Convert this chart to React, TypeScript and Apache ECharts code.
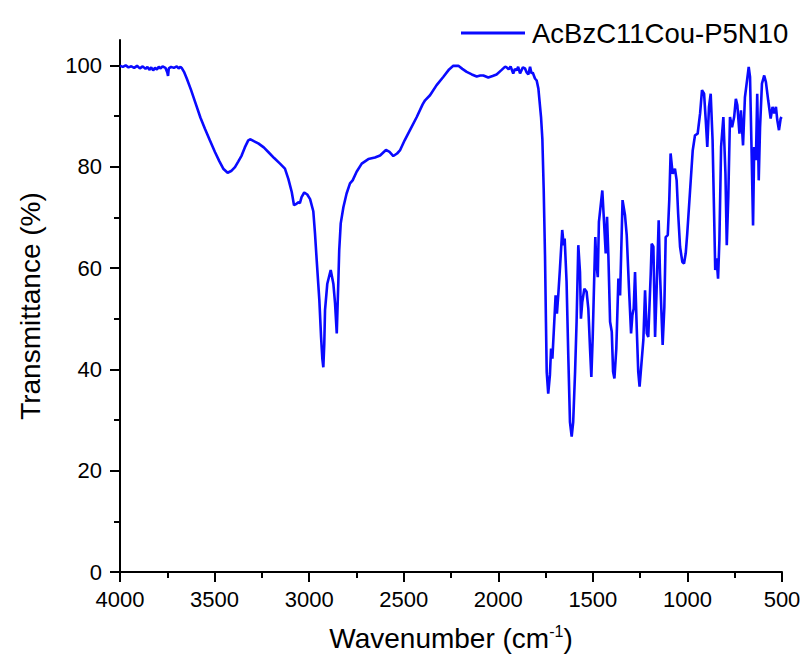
import React, { useEffect, useRef } from "react";
import * as echarts from "echarts";

const seriesName = "AcBzC11Cou-P5N10";

const wavenumber: number[] = [
  4000, 3985, 3970, 3955, 3940, 3925, 3910, 3895, 3880, 3865, 3855, 3845, 3835, 3825, 3815, 3805, 3795, 3785, 3775, 3760,
  3750, 3746, 3742, 3730, 3715, 3700, 3690, 3680, 3674, 3660, 3647, 3625, 3603, 3575, 3551, 3525, 3498, 3475, 3454, 3431,
  3410, 3392, 3375, 3357, 3340, 3322, 3310, 3290, 3269, 3240, 3216, 3185, 3154, 3128, 3110, 3092, 3080, 3070, 3057, 3049,
  3040, 3026, 3010, 2995, 2978, 2969, 2960, 2946, 2937, 2930, 2925, 2920, 2916, 2904, 2886, 2872, 2863, 2854, 2846, 2841,
  2833, 2819, 2802, 2784, 2770, 2749, 2722, 2687, 2652, 2625, 2594, 2575, 2555, 2535, 2520, 2495, 2467, 2431, 2400, 2387,
  2361, 2326, 2291, 2260, 2238, 2211, 2190, 2167, 2140, 2114, 2095, 2079, 2053, 2030, 2009, 1985, 1965, 1956, 1945, 1935,
  1921, 1912, 1903, 1895, 1885, 1870, 1859, 1850, 1841, 1832, 1824, 1818, 1806, 1797, 1788, 1774, 1767, 1760, 1753, 1748,
  1744, 1736, 1727, 1721, 1714, 1704, 1697, 1690, 1683, 1674, 1662, 1654, 1649, 1639, 1630, 1621, 1612, 1604, 1594, 1586,
  1577, 1568, 1563, 1556, 1545, 1533, 1524, 1515, 1508, 1501, 1492, 1487, 1482, 1474, 1468, 1450, 1440, 1432, 1425, 1418,
  1409, 1400, 1393, 1386, 1376, 1365, 1356, 1343, 1330, 1321, 1309, 1298, 1291, 1284, 1277, 1268, 1260, 1253, 1246, 1233,
  1224, 1215, 1207, 1194, 1189, 1180, 1171, 1163, 1152, 1145, 1131, 1122, 1115, 1104, 1096, 1089, 1078, 1066, 1057, 1049,
  1039, 1027, 1018, 1009, 1001, 986, 972, 960, 946, 933, 923, 912, 902, 895, 886, 877, 867, 858, 853, 846,
  838, 831, 822, 810, 799, 792, 784, 775, 764, 753, 744, 736, 725, 717, 706, 696, 687, 676, 669, 662,
  653, 647, 638, 631, 623, 616, 606, 594, 585, 573, 560, 550, 541, 532, 525, 516, 507, 502,
];

const transmittance: number[] = [
  99.9, 99.7, 100.0, 99.6, 99.8, 99.5, 99.9, 99.4, 99.8, 99.3, 99.7, 99.1, 99.6, 99.0, 99.5, 99.2, 99.7, 99.4, 99.8, 99.5,
  98.6, 97.9, 99.4, 99.7, 99.5, 99.8, 99.4, 99.7, 99.5, 98.6, 97.4, 95.2, 92.8, 89.7, 87.5, 85.2, 82.9, 81.1, 79.6, 78.8,
  79.2, 79.9, 81.0, 82.2, 83.8, 85.2, 85.4, 85.0, 84.6, 83.8, 82.9, 81.7, 80.6, 79.6, 77.6, 75.0, 72.4, 72.6, 73.0, 72.8,
  74.0, 74.9, 74.5, 73.6, 71.2, 66.8, 61.5, 53.6, 46.4, 42.0, 40.4, 45.0, 51.7, 56.9, 59.6, 56.9, 53.0, 47.1, 56.9, 63.5,
  68.8, 72.0, 74.7, 76.7, 77.3, 79.0, 80.6, 81.5, 81.8, 82.2, 83.3, 82.9, 82.1, 82.6, 83.2, 85.2, 87.2, 89.8, 92.3, 93.1,
  94.1, 96.1, 97.7, 99.2, 99.9, 99.9, 99.3, 98.7, 98.2, 97.8, 98.0, 98.0, 97.6, 97.9, 98.2, 99.0, 99.7, 99.6, 99.2, 99.8,
  98.4, 99.3, 99.0, 99.7, 98.4, 99.6, 99.4, 98.6, 98.2, 99.7, 98.4, 98.6, 97.4, 97.0, 95.4, 89.8, 85.5, 75.7, 62.5, 49.4,
  39.5, 35.2, 38.9, 44.1, 42.1, 49.4, 54.6, 51.0, 54.6, 59.9, 67.5, 64.5, 65.8, 57.3, 42.8, 29.6, 26.7, 29.6, 39.5, 49.4,
  64.5, 59.2, 50.0, 53.3, 55.9, 55.3, 52.0, 44.1, 38.5, 46.1, 59.2, 66.1, 61.2, 58.2, 69.1, 75.3, 68.4, 62.9, 70.1, 62.5,
  49.4, 47.4, 39.5, 38.2, 44.1, 57.9, 54.6, 73.4, 70.4, 66.5, 56.0, 47.1, 50.7, 52.0, 59.2, 48.1, 39.5, 36.6, 39.8, 45.8,
  55.6, 47.1, 46.4, 58.9, 64.8, 64.2, 46.4, 55.6, 69.4, 58.9, 44.8, 52.3, 66.1, 66.5, 73.4, 82.6, 78.6, 79.6, 77.3, 70.7,
  64.2, 61.2, 60.9, 62.9, 66.8, 75.3, 83.2, 86.2, 86.5, 90.5, 95.1, 94.4, 88.5, 83.9, 91.8, 94.4, 85.2, 68.8, 59.6, 61.9,
  57.9, 65.5, 83.9, 89.8, 78.6, 64.5, 74.0, 89.8, 87.8, 89.8, 93.4, 92.1, 86.5, 91.1, 84.2, 93.7, 96.4, 99.7, 97.7, 85.2,
  68.4, 83.9, 81.3, 94.4, 77.3, 87.8, 96.4, 98.0, 96.7, 93.1, 89.5, 91.8, 90.5, 91.8, 89.2, 87.2, 89.5, 89.8,
];

const xTicks = [500, 1000, 1500, 2000, 2500, 3000, 3500, 4000];
const yMajorTicks = [0, 20, 40, 60, 80, 100];
const yMinorTicks = [10, 30, 50, 70, 90];

const FONT = "Arial, 'Liberation Sans', sans-serif";
const BLUE = "#0a0aff";

export default function App() {
  const ref = useRef<HTMLDivElement>(null);

  useEffect(() => {
    if (!ref.current) return;
    const chart = echarts.init(ref.current, undefined, { renderer: "svg" });
    const data = wavenumber.map((w, i) => [w, transmittance[i]]);
    const axisLineStyle = { color: "#000", width: 2 };
    chart.setOption({
      animation: false,
      backgroundColor: "#fff",
      grid: { left: 120, right: 23, top: 40, bottom: 89, containLabel: false },
      legend: {
        data: [{ name: seriesName, icon: "rect" }],
        left: 456,
        top: 14,
        itemWidth: 64,
        itemHeight: 3,
        itemGap: 6,
        textStyle: { fontSize: 27.5, color: "#000", fontFamily: FONT, padding: [0, 0, 0, 2] },
      },
      xAxis: {
        type: "value",
        min: xTicks[0],
        max: xTicks[xTicks.length - 1],
        interval: 500,
        inverse: true,
        name: "Wavenumber (cm{sup|-1})",
        nameLocation: "middle",
        nameGap: 51,
        nameTextStyle: {
          fontSize: 28,
          color: "#000",
          fontFamily: FONT,
          rich: { sup: { fontSize: 16, color: "#000", fontFamily: FONT, padding: [0, 0, 14, 0] } },
        },
        axisLine: { show: true, onZero: false, lineStyle: axisLineStyle },
        axisTick: { show: true, inside: false, length: 10, lineStyle: { color: "#000", width: 2 } },
        minorTick: { show: true, splitNumber: 2, length: 6, lineStyle: { color: "#000", width: 2 } },
        axisLabel: {
          fontSize: 22,
          color: "#000",
          fontFamily: FONT,
          margin: 16,
          formatter: (v: number) => String(v),
        },
        splitLine: { show: false },
        minorSplitLine: { show: false },
      },
      yAxis: [
        {
          type: "value",
          min: 0,
          max: 105,
          position: "left",
          name: "Transmittance (%)",
          nameLocation: "middle",
          nameRotate: 90,
          nameGap: 76,
          nameTextStyle: { fontSize: 28, color: "#000", fontFamily: FONT },
          axisLine: { show: true, onZero: false, lineStyle: axisLineStyle },
          axisTick: { show: true, inside: false, length: 10, customValues: yMajorTicks, lineStyle: { color: "#000", width: 2 } },
          axisLabel: {
            fontSize: 22,
            color: "#000",
            fontFamily: FONT,
            margin: 18,
            customValues: yMajorTicks,
            formatter: (v: number) => String(v),
          },
          splitLine: { show: false },
        },
        {
          type: "value",
          min: 0,
          max: 105,
          position: "left",
          axisLine: { show: false },
          axisTick: { show: true, inside: false, length: 6, customValues: yMinorTicks, lineStyle: { color: "#000", width: 2 } },
          axisLabel: { show: false },
          splitLine: { show: false },
        },
      ],
      series: [
        {
          name: seriesName,
          type: "line",
          data,
          yAxisIndex: 0,
          showSymbol: false,
          symbol: "none",
          smooth: false,
          lineStyle: { color: BLUE, width: 2.6 },
          itemStyle: { color: BLUE },
        },
      ],
    });
    return () => chart.dispose();
  }, []);

  return (
    <div
      ref={ref}
      style={{ position: "fixed", left: 0, top: 0, width: 805, height: 661, background: "#fff" }}
    />
  );
}
